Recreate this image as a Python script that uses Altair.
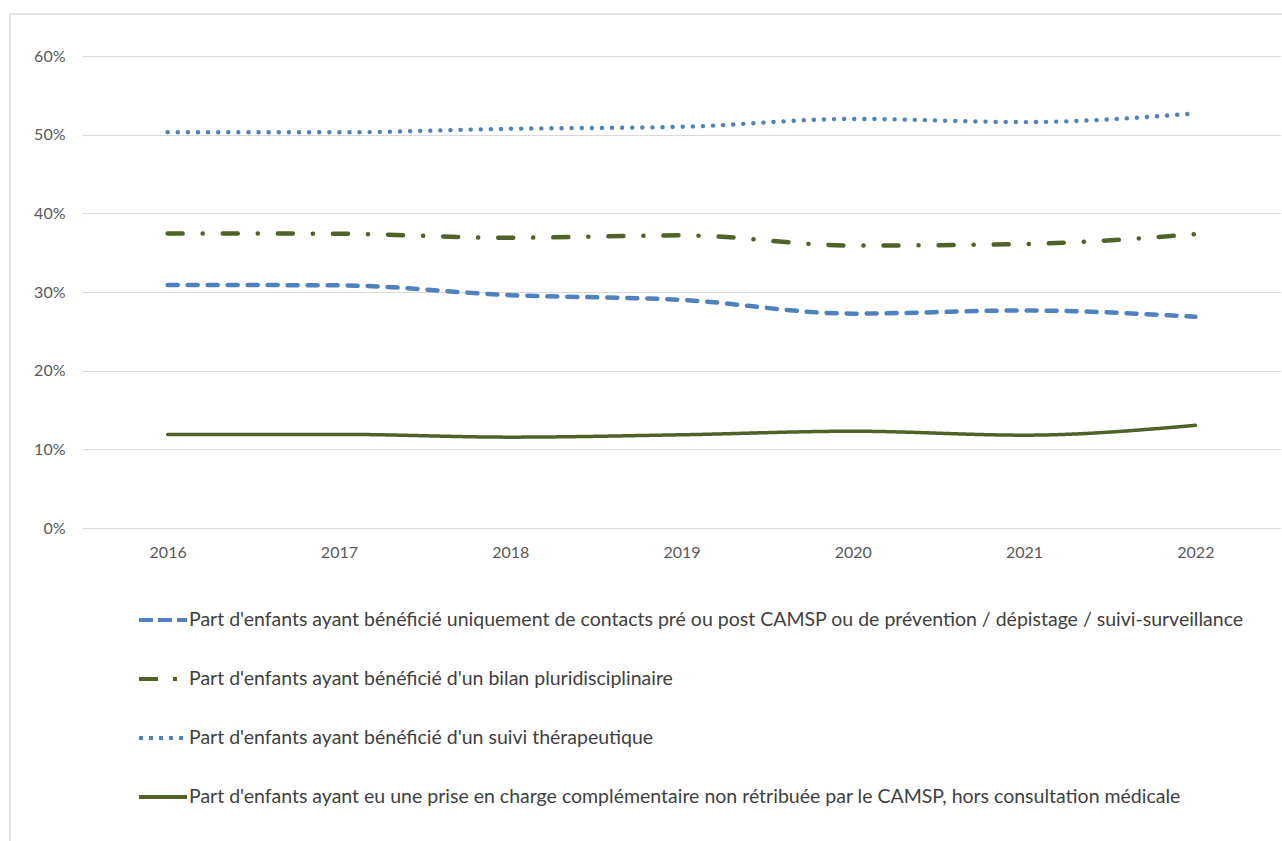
import altair as alt
import pandas as pd

years = ["2016", "2017", "2018", "2019", "2020", "2021", "2022"]
series_names = [
    "Part d'enfants ayant bénéficié uniquement de contacts pré ou post CAMSP ou de prévention / dépistage / suivi-surveillance",
    "Part d'enfants ayant bénéficié d'un bilan pluridisciplinaire",
    "Part d'enfants ayant bénéficié d'un suivi thérapeutique",
    "Part d'enfants ayant eu une prise en charge complémentaire non rétribuée par le CAMSP, hors consultation médicale",
]
contacts = [0.309, 0.3085, 0.296, 0.290, 0.2725, 0.2765, 0.2685]
bilan = [0.3745, 0.374, 0.369, 0.372, 0.359, 0.361, 0.3735]
suivi = [0.503, 0.503, 0.5075, 0.510, 0.520, 0.516, 0.527]
prise = [0.119, 0.119, 0.1155, 0.1185, 0.123, 0.118, 0.1305]
all_values = [contacts, bilan, suivi, prise]

colors = ["#4F81BD", "#4F6228", "#4F81BD", "#4F6228"]
line_dashes = [[10, 10], [15, 20, 0.1, 20], [0.1, 10], [1, 0]]
legend_dashes = [[14, 5], [19, 15, 4, 15], [4, 6], [1, 0]]
widths = [4.5, 4.5, 4.4, 3.5]

rows = []
for name, vals in zip(series_names, all_values):
    for yr, v in zip(years, vals):
        rows.append({"annee": yr, "valeur": v, "serie": name})
df = pd.DataFrame(rows)

FONT = "Lato"

x_enc = alt.X(
    "annee:O",
    scale=alt.Scale(type="point", padding=0.5),
    axis=alt.Axis(
        title=None, labelAngle=0, domain=False, ticks=False, grid=False,
        labelFont=FONT, labelFontSize=16, labelColor="#595959", labelPadding=16,
    ),
)
y_enc = alt.Y(
    "valeur:Q",
    scale=alt.Scale(domain=[0, 0.6]),
    axis=alt.Axis(
        title=None, values=[0, 0.1, 0.2, 0.3, 0.4, 0.5, 0.6], format=".0%",
        domain=False, ticks=False, tickSize=0, gridColor="#d9d9d9", gridWidth=1.2,
        labelFont=FONT, labelFontSize=16, labelColor="#595959", labelPadding=17,
    ),
)

layers = []
# frame
frame_df = pd.DataFrame({"k": [0]})
layers.append(
    alt.Chart(frame_df).mark_rule(color="#d9d9d9", strokeWidth=1.5).encode(
        x=alt.value(-72), y=alt.value(-42), y2=alt.value(800)
    )
)
layers.append(
    alt.Chart(frame_df).mark_rule(color="#d9d9d9", strokeWidth=1.5).encode(
        x=alt.value(-72), x2=alt.value(1205), y=alt.value(-42)
    )
)

for name, col, dash, w in zip(series_names, colors, line_dashes, widths):
    layers.append(
        alt.Chart(df)
        .transform_filter(alt.datum.serie == name)
        .mark_line(color=col, strokeDash=dash, strokeCap="round", strokeWidth=w,
                   interpolate="monotone")
        .encode(x=x_enc, y=y_enc)
    )

legend = alt.Legend(
    title=None, orient="none", legendX=55, legendY=538, direction="vertical",
    symbolType="stroke", symbolSize=2304, symbolStrokeWidth=4,
    labelFont=FONT, labelFontSize=19.5, labelColor="#404040", labelLimit=1300,
    rowPadding=23, labelOffset=0, padding=0,
)
legend_layer = (
    alt.Chart(df)
    .transform_filter("false")
    .mark_line(strokeWidth=4)
    .encode(
        x=x_enc, y=y_enc,
        color=alt.Color("serie:N", scale=alt.Scale(domain=series_names, range=colors), legend=legend),
        strokeDash=alt.StrokeDash("serie:N", scale=alt.Scale(domain=series_names, range=legend_dashes), legend=legend),
    )
)
layers.append(legend_layer)

chart = (
    alt.layer(*layers)
    .properties(
        width=1199, height=472,
        padding={"left": 82, "top": 56, "right": 1, "bottom": 313},
        autosize=alt.AutoSizeParams(type="none"),
        background="white",
    )
    .configure_view(stroke=None)
)

chart.save("out.html", embed_options={"renderer": "svg", "actions": False})
